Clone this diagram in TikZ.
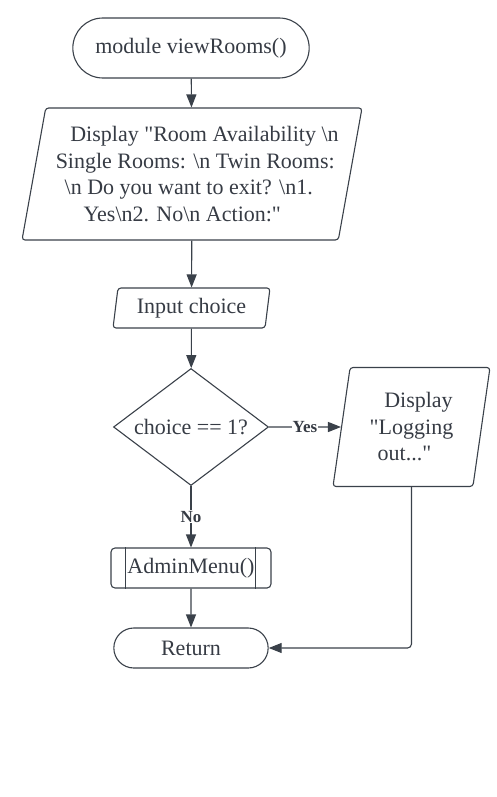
\documentclass[tikz,border=0pt]{standalone}
\usepackage{fontspec}
% no TeX ligatures, so that " stays a straight quote
\newfontfamily\chartfont{Liberation Serif}
\usetikzlibrary{shapes.geometric, shapes.misc, arrows.meta}
\definecolor{linegray}{HTML}{3A414A}
\definecolor{textgray}{HTML}{363B44}
% shift one line of a centred node sideways (text follows the slant)
\newcommand{\slantln}[2]{\hbox{\kern#1\relax#2\kern-#1\relax}}

\begin{document}
\begin{tikzpicture}[
    x=1pt, y=-1pt,
    font=\chartfont\fontsize{22}{26.5}\selectfont,
    text=textgray,
    % Node styles
    terminal/.style={rounded rectangle, draw=linegray, line width=1.1pt},
    io/.style={trapezium, trapezium left angle=76, trapezium right angle=104, trapezium stretches body,
        draw=linegray, line width=1.1pt, rounded corners=3pt, align=center, inner sep=0pt},
    decision/.style={diamond, draw=linegray, line width=1.1pt, aspect=1.32, inner sep=0pt},
    process/.style={rectangle, draw=linegray, line width=1.1pt, rounded corners=4pt},
    arrow/.style={-{Triangle[length=13pt, width=10pt]}, draw=linegray, line width=1.1pt},
    branch/.style={font=\chartfont\fontsize{17}{20}\selectfont\bfseries, fill=white, inner sep=1pt},
]

% Canvas
\useasboundingbox (0,0) rectangle (497,797);

% ============================================================================
% MAIN COLUMN
% ============================================================================
\node[terminal, minimum width=243pt, minimum height=60pt] (start) at (191, 48) {module viewRooms()};

\node[io, minimum width=340pt, minimum height=132pt] (display) at (192, 174) {
    \slantln{9.75pt}{ Display "Room Availability \textbackslash n}\\
    \slantln{3.25pt}{Single Rooms: \textbackslash n Twin Rooms:}\\
    \slantln{-3.25pt}{\textbackslash n Do you want to exit? \textbackslash n1.}\\
    \slantln{-9.75pt}{Yes\textbackslash n2. No\textbackslash n Action:"}
};

\node[io, minimum width=157pt, minimum height=40pt] (input) at (191.5, 308) {Input choice};

\node[decision, minimum width=155pt, minimum height=117pt] (check) at (191, 427) {choice == 1?};

\node[process, minimum width=160pt, minimum height=40pt] (admin) at (191, 568) {AdminMenu()};
\draw[linegray, line width=1.1pt] ([xshift=15pt]admin.north west) -- ([xshift=15pt]admin.south west);
\draw[linegray, line width=1.1pt] ([xshift=-16pt]admin.north east) -- ([xshift=-16pt]admin.south east);

\node[terminal, minimum width=161pt, minimum height=40pt] (return) at (191, 648) {Return};

% ============================================================================
% YES BRANCH
% ============================================================================
\node[io, minimum width=157pt, minimum height=119pt] (logout) at (411.5, 427) {
    \slantln{7pt}{Display}\\
    \slantln{0pt}{"Logging}\\
    \slantln{-7pt}{out..."}
};

% Connectors
\draw[arrow] (start) -- (display);
\draw[arrow] (display) -- (input);
\draw[arrow] (input) -- (check);
\draw[arrow] (check.east) -- (logout.west) node[branch, midway] {Yes};
\draw[arrow] (check) -- (admin) node[branch, midway] {No};
\draw[arrow] (admin) -- (return);
\draw[arrow, rounded corners=4pt] (logout.south) |- (return.east);

\end{tikzpicture}
\end{document}
